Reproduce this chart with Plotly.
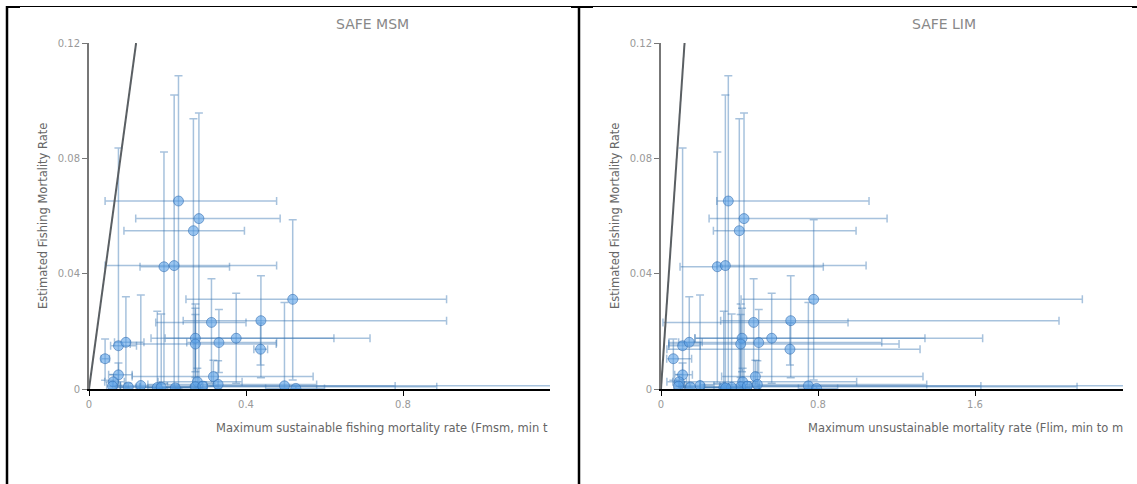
import plotly.graph_objects as go

# Estimated fishing mortality (with min / max) for each stock
est_f = [0.0652, 0.0591, 0.0549, 0.0424, 0.0428, 0.0311, 0.0237, 0.0231, 0.0138, 0.0176,
         0.0161, 0.0176, 0.0156, 0.0105, 0.0150, 0.0162, 0.0012, 0.0049, 0.0025, 0.0010,
         0.0025, 0.0043, 0.0016, 0.0008, 0.0005, 0.0006, 0.0011, 0.0002, 0.0004, 0.0010, 0.0007]
est_f_min = [0.0003, 0.0005, 0.0010, 0.0020, 0.0005, 0.0031, 0.0039, 0.0020, 0.0083, 0.0020,
             0.0057, 0.0060, 0.0040, 0.0030, 0.0005, 0.0005, 0.0002, 0.0012, 0.0008, 0.0002,
             0.0004, 0.0010, 0.0003, 0.0002, 0.0001, 0.0001, 0.0003, 0.0000, 0.0001, 0.0002, 0.0002]
est_f_max = [0.1086, 0.0957, 0.0937, 0.0822, 0.1020, 0.0587, 0.0393, 0.0382, 0.0229, 0.0332,
             0.0276, 0.0280, 0.0258, 0.0173, 0.0836, 0.0320, 0.0326, 0.0090, 0.0050, 0.0030,
             0.0072, 0.0100, 0.0098, 0.0295, 0.0270, 0.0260, 0.0300, 0.0010, 0.0012, 0.0025, 0.0020]

# Maximum sustainable fishing mortality rate (Fmsm)
fmsm = [0.228, 0.280, 0.266, 0.191, 0.217, 0.519, 0.438, 0.312, 0.437, 0.375,
        0.331, 0.271, 0.271, 0.041, 0.075, 0.094, 0.132, 0.075, 0.062, 0.060,
        0.276, 0.317, 0.329, 0.271, 0.174, 0.184, 0.498, 0.527, 0.220, 0.290, 0.100]
fmsm_min = [0.041, 0.119, 0.089, 0.130, 0.041, 0.247, 0.240, 0.170, 0.420, 0.158,
            0.249, 0.194, 0.105, 0.031, 0.055, 0.065, 0.080, 0.050, 0.040, 0.045,
            0.176, 0.110, 0.150, 0.080, 0.120, 0.130, 0.300, 0.450, 0.150, 0.200, 0.070]
fmsm_max = [0.478, 0.487, 0.396, 0.358, 0.478, 0.911, 0.911, 0.400, 0.455, 0.716,
            0.478, 0.624, 0.477, 0.052, 0.121, 0.140, 0.180, 0.110, 0.090, 0.080,
            0.390, 0.571, 0.580, 0.886, 0.260, 0.280, 1.400, 0.600, 0.300, 0.780, 0.130]

# Maximum unsustainable mortality rate (Flim)
flim = [0.343, 0.423, 0.399, 0.287, 0.328, 0.778, 0.661, 0.472, 0.657, 0.564,
        0.498, 0.413, 0.406, 0.063, 0.110, 0.144, 0.199, 0.110, 0.093, 0.090,
        0.416, 0.481, 0.491, 0.406, 0.320, 0.360, 0.751, 0.793, 0.330, 0.440, 0.150]
flim_min = [0.284, 0.245, 0.267, 0.097, 0.284, 0.408, 0.304, 0.010, 0.030, 0.173,
            0.040, 0.173, 0.040, 0.029, 0.040, 0.090, 0.120, 0.070, 0.060, 0.065,
            0.030, 0.309, 0.200, 0.100, 0.200, 0.220, 0.500, 0.700, 0.220, 0.300, 0.100]
flim_max = [1.060, 1.152, 0.994, 0.827, 1.045, 2.147, 2.028, 0.953, 1.320, 1.639,
            1.125, 1.345, 1.213, 0.156, 0.200, 0.210, 0.270, 0.160, 0.130, 0.120,
            0.997, 1.335, 1.354, 2.120, 0.450, 0.500, 2.600, 0.900, 0.460, 1.630, 0.200]

# One-to-one reference line
ref_line = [0, 0.12]

panel_titles = ["SAFE MSM", "SAFE LIM"]
x_titles = ["Maximum sustainable fishing mortality rate (Fmsm, min t",
            "Maximum unsustainable mortality rate (Flim, min to m"]
y_title = "Estimated Fishing Mortality Rate"

W, H = 1137, 484
FONT = "DejaVu Sans"


def px(x):
    return x / W


def py(y):
    return 1 - y / H


def err(vals, lo, hi):
    plus = [h - v for v, h in zip(vals, hi)]
    minus = [v - l for v, l in zip(vals, lo)]
    return plus, minus


bar_color = "rgba(60,120,180,0.45)"
fig = go.Figure()

for i, (xv, xlo, xhi) in enumerate([(fmsm, fmsm_min, fmsm_max), (flim, flim_min, flim_max)]):
    xa = "x" if i == 0 else "x2"
    ya = "y" if i == 0 else "y2"
    xp, xm = err(xv, xlo, xhi)
    yp, ym = err(est_f, est_f_min, est_f_max)
    fig.add_trace(go.Scatter(
        x=xv, y=est_f, mode="markers", xaxis=xa, yaxis=ya, showlegend=False,
        marker=dict(size=10, color="rgba(90,160,230,0.6)",
                    line=dict(color="rgba(40,100,170,0.5)", width=1)),
        error_x=dict(type="data", symmetric=False, array=xp, arrayminus=xm,
                     color=bar_color, thickness=1.5, width=4),
        error_y=dict(type="data", symmetric=False, array=yp, arrayminus=ym,
                     color=bar_color, thickness=1.5, width=4),
    ))
    fig.add_trace(go.Scatter(
        x=ref_line, y=ref_line, mode="lines", xaxis=xa, yaxis=ya, showlegend=False,
        line=dict(color="#5a5f63", width=2),
    ))

axis_common = dict(showgrid=False, zeroline=False, showline=True, ticks="outside",
                   ticklen=5, automargin=False,
                   tickfont=dict(family=FONT, size=10, color="#999"))

fig.update_layout(
    template="none",
    width=W, height=H, autosize=False,
    margin=dict(l=0, r=0, t=0, b=0, pad=0, autoexpand=False),
    paper_bgcolor="white", plot_bgcolor="white",
    font=dict(family=FONT),
    xaxis=dict(domain=[px(89), px(550)], range=[0, 461 / 392.5], dtick=0.4,
               linecolor="black", tickcolor="black", linewidth=1.5, anchor="y", **axis_common),
    yaxis=dict(domain=[py(389), py(43)], range=[0, 0.12], dtick=0.04,
               linecolor="#777", tickcolor="#777", linewidth=2, anchor="x", **axis_common),
    xaxis2=dict(domain=[px(661), px(1123)], range=[0, 462 / 196.25], dtick=0.8,
                linecolor="black", tickcolor="black", linewidth=1.5, anchor="y2", **axis_common),
    yaxis2=dict(domain=[py(389), py(43)], range=[0, 0.12], dtick=0.04,
                linecolor="#777", tickcolor="#777", linewidth=2, anchor="x2", **axis_common),
)

annotations = []
for title, cx in zip(panel_titles, [372, 944]):
    annotations.append(dict(text=title, x=px(cx), y=py(24), xref="paper", yref="paper",
                            showarrow=False, xanchor="center", yanchor="middle",
                            font=dict(family=FONT, size=14, color="#888")))
for title, lx in zip(x_titles, [214, 806]):
    annotations.append(dict(text=title, x=px(lx), y=py(428), xref="paper", yref="paper",
                            showarrow=False, xanchor="left", yanchor="middle",
                            font=dict(family=FONT, size=11.5, color="#666")))
for cx in [43, 615]:
    annotations.append(dict(text=y_title, x=px(cx), y=py(216), xref="paper", yref="paper",
                            showarrow=False, textangle=-90, xanchor="center", yanchor="middle",
                            font=dict(family=FONT, size=11.5, color="#666")))
fig.update_layout(annotations=annotations)

# Panel frame lines
shapes = [
    dict(type="line", x0=px(7), x1=1, y0=py(6.5), y1=py(6.5), line=dict(color="black", width=1)),
    dict(type="line", x0=px(7), x1=px(7), y0=py(6), y1=0, line=dict(color="black", width=2.5)),
    dict(type="line", x0=px(579), x1=px(579), y0=py(6), y1=0, line=dict(color="black", width=2.5)),
    dict(type="line", x0=px(6), x1=px(20), y0=py(7), y1=py(7), line=dict(color="black", width=2)),
    dict(type="line", x0=px(571), x1=px(593), y0=py(7), y1=py(7), line=dict(color="black", width=2)),
    dict(type="line", x0=px(1132), x1=1, y0=py(7), y1=py(7), line=dict(color="black", width=2)),
]
for s in shapes:
    s.update(xref="paper", yref="paper", layer="above")
fig.update_layout(shapes=shapes)

fig.write_html("out.html")
